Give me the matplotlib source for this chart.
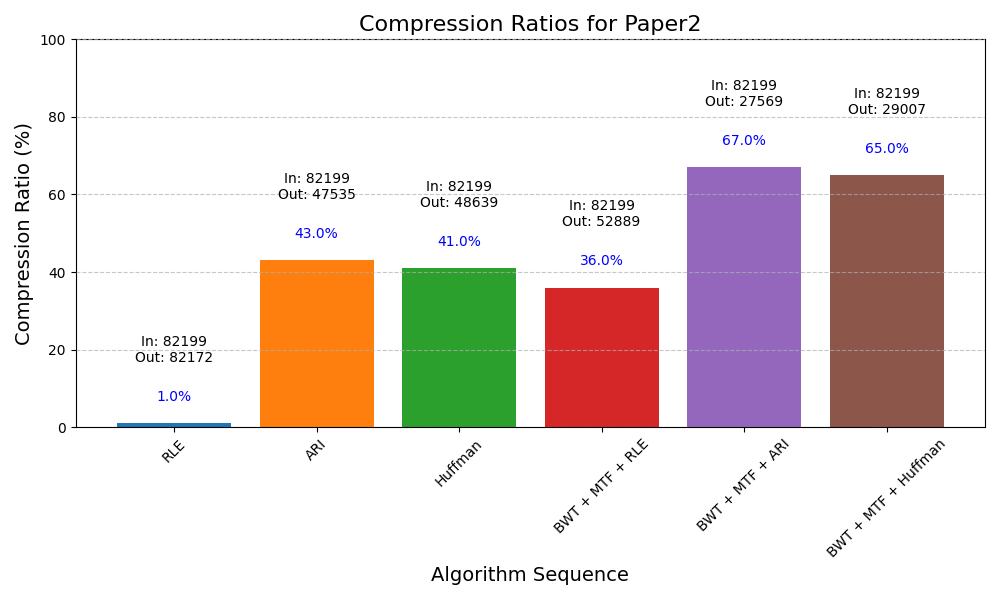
import matplotlib
matplotlib.use('Agg')
import matplotlib.pyplot as plt

algorithms = ['RLE', 'ARI', 'Huffman', 'BWT + MTF + RLE', 'BWT + MTF + ARI', 'BWT + MTF + Huffman']
ratios = [1.0, 43.0, 41.0, 36.0, 67.0, 65.0]
in_sizes = [82199, 82199, 82199, 82199, 82199, 82199]
out_sizes = [82172, 47535, 48639, 52889, 27569, 29007]
colors = ['#1f77b4', '#ff7f0e', '#2ca02c', '#d62728', '#9467bd', '#8c564b']

fig, ax = plt.subplots(figsize=(10, 6))
bars = ax.bar(algorithms, ratios, color=colors)
for bar, r, i, o in zip(bars, ratios, in_sizes, out_sizes):
    x = bar.get_x() + bar.get_width() / 2
    ax.text(x, r + 5, f'{r:.1f}%', ha='center', va='bottom', color='blue', fontsize=10)
    ax.text(x, r + 15, f'In: {i}\nOut: {o}', ha='center', va='bottom', fontsize=10)

ax.set_ylim(0, 100)
ax.set_title('Compression Ratios for Paper2', fontsize=16)
ax.set_xlabel('Algorithm Sequence', fontsize=14)
ax.set_ylabel('Compression Ratio (%)', fontsize=14)
ax.grid(axis='y', linestyle='--', alpha=0.7)
ax.set_axisbelow(False)
plt.xticks(rotation=45)
plt.tight_layout()
plt.savefig('out.png', dpi=100)
